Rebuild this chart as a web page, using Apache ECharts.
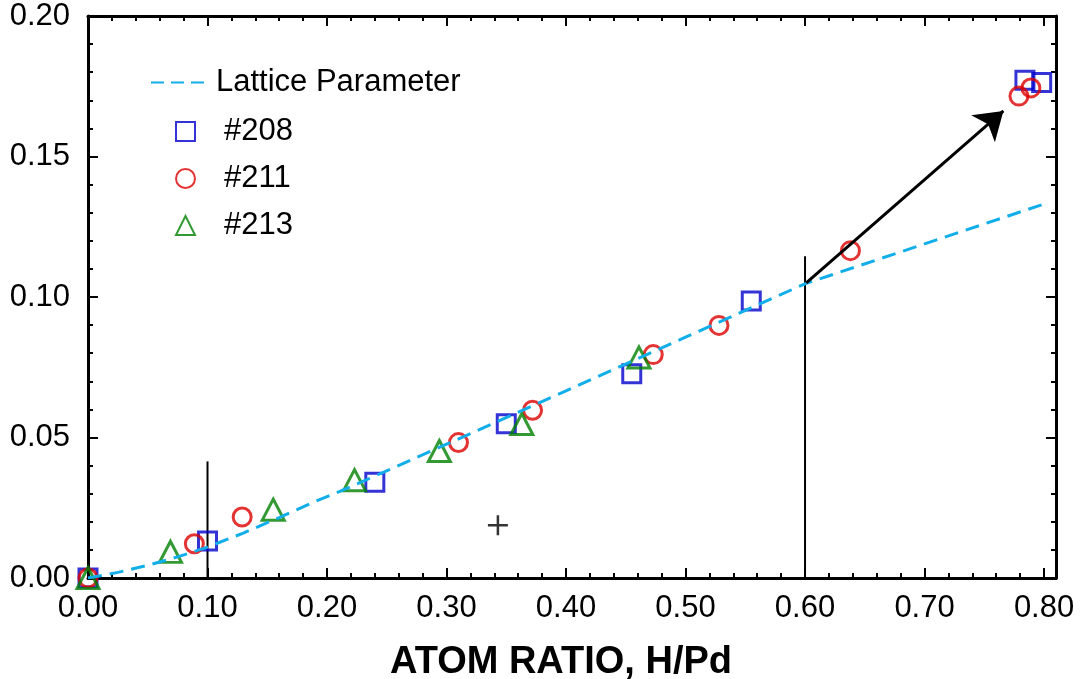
<!DOCTYPE html>
<html lang="en">
<head>
  <meta charset="UTF-8">
  <title>ATOM RATIO, H/Pd</title>
  <script src="https://cdn.jsdelivr.net/npm/echarts@6/dist/echarts.min.js"></script>
  <style>
    html, body { margin: 0; padding: 0; background: #fff; }
    #main { width: 1080px; height: 679px; }
  </style>
</head>
<body>
<div id="main"></div>
<script>
  // tick positions
  var xMajor = [0, 0.1, 0.2, 0.3, 0.4, 0.5, 0.6, 0.7, 0.8];
  var xMinor = [0.02, 0.04, 0.06, 0.08, 0.12, 0.14, 0.16, 0.18, 0.22, 0.24, 0.26, 0.28,
                0.32, 0.34, 0.36, 0.38, 0.42, 0.44, 0.46, 0.48, 0.52, 0.54, 0.56, 0.58,
                0.62, 0.64, 0.66, 0.68, 0.72, 0.74, 0.76, 0.78, 0.8];

  // lattice parameter curve
  var lattice = [[0, 0], [0.025, 0.002], [0.05, 0.0045], [0.075, 0.0075], [0.10, 0.011],
                 [0.13, 0.016], [0.16, 0.0215], [0.19, 0.0272], [0.22, 0.0325],
                 [0.30, 0.0476], [0.40, 0.0666], [0.50, 0.0857], [0.60, 0.1047],
                 [0.70, 0.1189], [0.80, 0.1331]];

  // samples
  var s208 = [[0, 0], [0.100, 0.0132], [0.240, 0.0341], [0.350, 0.0549], [0.455, 0.0727],
              [0.555, 0.0986], [0.784, 0.1771], [0.798, 0.1763]];
  var s211 = [[0, 0], [0.089, 0.0122], [0.129, 0.0217], [0.310, 0.0482], [0.372, 0.0597],
              [0.473, 0.0795], [0.528, 0.0899], [0.638, 0.1165], [0.779, 0.1715], [0.789, 0.1744]];
  var s213 = [[0, 0], [0.069, 0.0093], [0.155, 0.0243], [0.223, 0.0348], [0.294, 0.0452],
              [0.363, 0.0548], [0.461, 0.0785]];

  // annotations
  var guide1 = [[0.1, 0], [0.1, 0.0415]];
  var guide2 = [[0.6, 0], [0.6, 0.1145]];
  var arrowFrom = [0.601, 0.105];
  var arrowTo = [0.766, 0.1662];
  var plusPt = [[0.343, 0.0188]];

  var FONT = "'Liberation Sans', Arial, sans-serif";

  function xAxisDef(pos, ticks, len, withLabel, withLine) {
    return {
      type: 'value', min: 0, max: 0.81, position: pos,
      splitLine: { show: false },
      axisLine: { show: withLine, onZero: false, lineStyle: { color: '#000', width: 3 } },
      axisTick: { show: true, inside: true, length: len, customValues: ticks,
                  lineStyle: { color: '#000', width: 2 } },
      axisLabel: { show: withLabel, customValues: ticks, margin: 15,
                   fontSize: 31, fontFamily: FONT, color: '#000',
                   formatter: function (v) { return v.toFixed(2); } }
    };
  }

  function yAxisDef(pos, withLabel) {
    return {
      type: 'value', min: 0, max: 0.2, interval: 0.05, position: pos,
      splitLine: { show: false },
      axisLine: { show: true, onZero: false, lineStyle: { color: '#000', width: 3 } },
      axisTick: { show: true, inside: true, length: 10, lineStyle: { color: '#000', width: 2 } },
      minorTick: { show: true, splitNumber: 5, length: 5, lineStyle: { color: '#000', width: 2 } },
      axisLabel: { show: withLabel, margin: 18, fontSize: 31, fontFamily: FONT, color: '#000',
                   formatter: function (v) { return v.toFixed(2); } }
    };
  }

  var xBottom = xAxisDef('bottom', xMajor, 10, true, true);
  xBottom.name = 'ATOM RATIO, H/Pd';
  xBottom.nameLocation = 'middle';
  xBottom.nameGap = 66;
  xBottom.nameTextStyle = { fontSize: 38, fontWeight: 'bold', fontFamily: FONT, color: '#000',
                            padding: [0, 22, 0, 0] };

  var chart = echarts.init(document.getElementById('main'), null, { renderer: 'canvas' });
  chart.setOption({
    animation: false,
    backgroundColor: '#fff',
    grid: { left: 88, right: 24, top: 16, bottom: 101, containLabel: false, outerBoundsMode: 'none' },
    legend: [{
      data: [{ name: 'Lattice Parameter', itemStyle: { opacity: 0 },
               lineStyle: { type: [13, 7] } }],
      left: 150, top: 67, orient: 'vertical', padding: 0,
      itemWidth: 53, itemHeight: 14, itemGap: 14,
      textStyle: { fontSize: 31, fontFamily: FONT, color: '#000', padding: [0, 0, 0, 7] }
    }, {
      data: ['#208', '#211', '#213'],
      left: 175, top: 116, orient: 'vertical', padding: 0,
      itemWidth: 19, itemHeight: 19, itemGap: 16,
      textStyle: { fontSize: 31, fontFamily: FONT, color: '#000', padding: [0, 0, 0, 24] }
    }],
    xAxis: [
      xBottom,
      xAxisDef('bottom', xMinor, 5, false, false),
      xAxisDef('top', xMajor, 10, false, true),
      xAxisDef('top', xMinor, 5, false, false)
    ],
    yAxis: [yAxisDef('left', true), yAxisDef('right', false)],
    series: [{
      name: 'Lattice Parameter', type: 'line', data: lattice,
      symbol: 'none', smooth: false, z: 4,
      lineStyle: { color: '#12aeea', width: 3, type: [14, 8] },
      itemStyle: { color: '#12aeea' }
    }, {
      name: '#208', type: 'scatter', data: s208,
      symbol: 'rect', symbolSize: 18, z: 3,
      itemStyle: { color: 'rgba(255,255,255,0)', borderColor: '#0000cc', borderWidth: 3 }
    }, {
      name: '#211', type: 'scatter', data: s211,
      symbol: 'circle', symbolSize: 18, z: 3,
      itemStyle: { color: 'rgba(255,255,255,0)', borderColor: '#dd0000', borderWidth: 3 }
    }, {
      name: '#213', type: 'scatter', data: s213,
      symbol: 'triangle', symbolSize: [22, 21], z: 3,
      itemStyle: { color: 'rgba(255,255,255,0)', borderColor: '#008000', borderWidth: 3 }
    }, {
      type: 'line', data: guide1, symbol: 'none', z: 2,
      lineStyle: { color: '#000', width: 2 }
    }, {
      type: 'line', data: guide2, symbol: 'none', z: 2,
      lineStyle: { color: '#000', width: 2 }
    }, {
      type: 'scatter', data: plusPt, z: 3,
      symbol: 'path://M10,0 L10,20 M0,10 L20,10', symbolSize: 20,
      itemStyle: { color: 'rgba(0,0,0,0)', borderColor: '#000', borderWidth: 2.5 },
      markLine: {
        silent: true, animation: false,
        symbol: ['none', 'arrow'],
        symbolSize: 27,
        label: { show: false },
        lineStyle: { color: '#000', width: 3, type: 'solid' },
        data: [[{ coord: arrowFrom }, { coord: arrowTo }]]
      }
    }]
  });
</script>
</body>
</html>
